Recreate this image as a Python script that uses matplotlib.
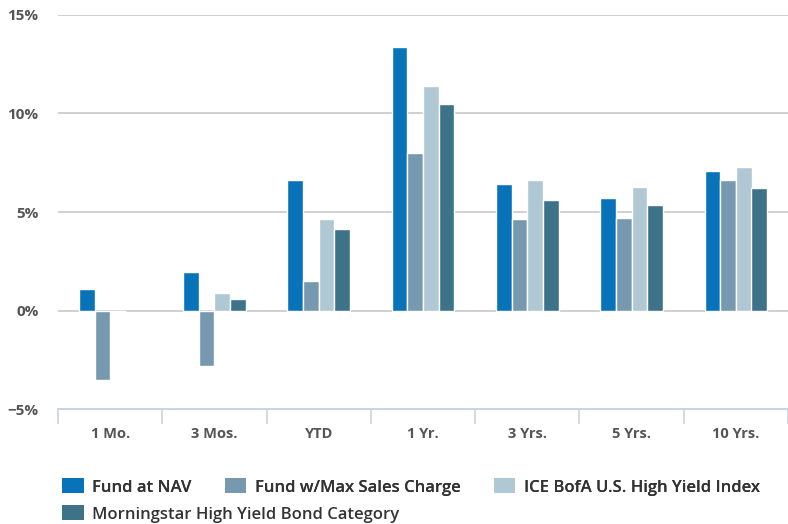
import matplotlib.pyplot as plt
import numpy as np
from matplotlib.patches import Patch

# dati (rendimenti in %)
periodi = ['1 Mo.', '3 Mos.', 'YTD', '1 Yr.', '3 Yrs.', '5 Yrs.', '10 Yrs.']
fund_nav = [1.07, 1.93, 6.60, 13.40, 6.40, 5.69, 7.06]
fund_max_sales = [-3.55, -2.80, 1.52, 8.02, 4.67, 4.72, 6.60]
ice_index = [0.0, 0.91, 4.67, 11.42, 6.60, 6.29, 7.26]
morningstar = [np.nan, 0.60, 4.16, 10.46, 5.63, 5.33, 6.24]

serie = ['Fund at NAV', 'Fund w/Max Sales Charge',
         'ICE BofA U.S. High Yield Index', 'Morningstar High Yield Bond Category']
colori = ['#0873b9', '#7799af', '#b0c8d4', '#3e7289']
valori = [fund_nav, fund_max_sales, ice_index, morningstar]

plt.rcParams['font.family'] = ['Open Sans', 'DejaVu Sans']

fig = plt.figure(figsize=(7.88, 5.24), dpi=100)
ax = fig.add_axes([58/788, 1 - 409/524, 730/788, (409 - 15)/524])

x = np.arange(len(periodi))
larg = 0.15
for i, (vals, col) in enumerate(zip(valori, colori)):
    ax.bar(x + (i - 1.5) * larg, vals, width=larg, color=col,
           edgecolor='white', linewidth=1, zorder=3)

ax.set_xlim(-0.5, len(periodi) - 0.5)
ax.set_ylim(-5, 15)
ax.set_yticks([-5, 0, 5, 10, 15])
ax.set_yticklabels(['\u22125%', '0%', '5%', '10%', '15%'])
for y in [0, 5, 10, 15]:
    ax.axhline(y, color='#d0d0d0', linewidth=1.4, zorder=1)

for s in ['top', 'right', 'left']:
    ax.spines[s].set_visible(False)
ax.spines['bottom'].set_color('#c8d4e2')
ax.spines['bottom'].set_linewidth(1.4)

ax.set_xticks(x)
ax.set_xticklabels(periodi)
ax.tick_params(axis='x', length=0, pad=13, labelsize=10.5, labelcolor='#555555')
ax.tick_params(axis='y', length=0, pad=14, labelsize=11, labelcolor='#555555')
for lab in ax.get_xticklabels() + ax.get_yticklabels():
    lab.set_fontweight('bold')

# tacche tra le categorie
ax.set_xticks(np.arange(len(periodi) + 1) - 0.5, minor=True)
ax.tick_params(axis='x', which='minor', length=11, width=1.2, color='#c8d4e2')

# legenda su due righe (come nell'originale)
handles = [Patch(facecolor=c, edgecolor='none') for c in colori]
opzioni = dict(frameon=False, fontsize=12, handlelength=1.3, handleheight=1.0,
               handletextpad=0.5, columnspacing=2.0, borderpad=0, borderaxespad=0)
leg1 = fig.legend(handles[:3], serie[:3], loc='center left',
                  bbox_to_anchor=(62/788, 1 - 487/524), ncol=3, **opzioni)
leg2 = fig.legend(handles[3:], serie[3:], loc='center left',
                  bbox_to_anchor=(62/788, 1 - 514/524), ncol=1, **opzioni)
fig.add_artist(leg1)
for leg in (leg1, leg2):
    for t in leg.get_texts():
        t.set_color('#333333')
        t.set_fontweight('semibold')

fig.savefig('out.png', dpi=100)
